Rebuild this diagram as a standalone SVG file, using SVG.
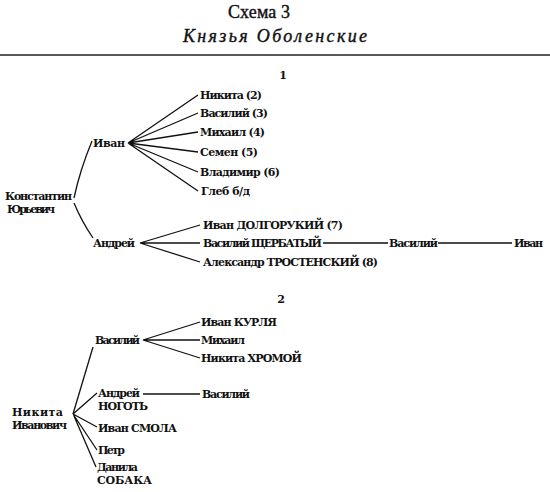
<svg xmlns="http://www.w3.org/2000/svg" width="550" height="492" viewBox="0 0 550 492">
<style>
text{font-family:"DejaVu Serif","Liberation Serif",serif;fill:#111}
.n{font-size:11px;font-weight:bold}
.t1{font-size:18px;font-family:"Liberation Serif",serif;stroke:#111;stroke-width:0.4}
.t2{font-size:18px;font-style:italic;font-family:"Liberation Serif",serif;stroke:#111;stroke-width:0.4}
.h{font-size:11px;font-weight:bold}
.c{stroke:#111;stroke-width:1.3;fill:none}
.rule{stroke:#222;stroke-width:1.4}
</style>
<rect width="550" height="492" fill="#fff"/>
<g id="title">
<text class="t1" x="228" y="18" textLength="62" lengthAdjust="spacing">Схема 3</text>
<text class="t2" x="183" y="42" textLength="184" lengthAdjust="spacing">Князья Оболенские</text>
<line class="rule" x1="0" y1="55" x2="550" y2="55"/>
</g>
<g id="h1"><text class="h" x="283" y="79" text-anchor="middle">1</text></g>
<g id="h2"><text class="h" x="281" y="303" text-anchor="middle">2</text></g>
<g id="connectors">
<path class="c" d="M92,141 Q80,170 74,198"/>
<path class="c" d="M74,203 Q82,222 93,238"/>
<path class="c" d="M128,143 L198,95 M128,143 L198,113 M128,143 L198,132 M128,143 L198,152 M128,143 L198,172 M128,143 L198,191"/>
<path class="c" d="M140,243 L200,225 M140,243 L200,243 M140,243 L200,262"/>
<path class="c" d="M323,243 L388,243 M438,243 L512,243"/>
<path class="c" d="M143,340 L200,322 M143,340 L200,340 M143,340 L200,358"/>
<path class="c" d="M93,347 L73,414"/>
<path class="c" d="M73,414 L97,393 M73,414 L97,427 M73,414 L97,450 M74,416 L96,467"/>
<path class="c" d="M143,394 L200,394"/>
</g>
<g id="konstantin"><text class="n" x="5" y="200" textLength="67" lengthAdjust="spacing">Константин</text><text class="n" x="7" y="213" textLength="48" lengthAdjust="spacing">Юрьевич</text></g>
<g id="ivan1"><text class="n" x="93" y="147" textLength="32" lengthAdjust="spacing">Иван</text></g>
<g id="nikita2"><text class="n" x="200" y="99" textLength="62" lengthAdjust="spacing">Никита (2)</text></g>
<g id="vasily3"><text class="n" x="200" y="117" textLength="68" lengthAdjust="spacing">Василий (3)</text></g>
<g id="mikhail4"><text class="n" x="200" y="136" textLength="65" lengthAdjust="spacing">Михаил (4)</text></g>
<g id="semen5"><text class="n" x="200" y="156" textLength="58" lengthAdjust="spacing">Семен (5)</text></g>
<g id="vladimir6"><text class="n" x="200" y="176" textLength="80" lengthAdjust="spacing">Владимир (6)</text></g>
<g id="gleb"><text class="n" x="201" y="195" textLength="49" lengthAdjust="spacing">Глеб б/д</text></g>
<g id="andrey1"><text class="n" x="93" y="247" textLength="42" lengthAdjust="spacing">Андрей</text></g>
<g id="dolgoruky"><text class="n" x="203" y="229" textLength="140" lengthAdjust="spacing">Иван ДОЛГОРУКИЙ (7)</text></g>
<g id="shcherbaty"><text class="n" x="203" y="247" textLength="119" lengthAdjust="spacing">Василий ЩЕРБАТЫЙ</text></g>
<g id="vasily-s"><text class="n" x="389" y="247" textLength="49" lengthAdjust="spacing">Василий</text></g>
<g id="ivan-s"><text class="n" x="514" y="247" textLength="29" lengthAdjust="spacing">Иван</text></g>
<g id="trostensky"><text class="n" x="203" y="266" textLength="175" lengthAdjust="spacing">Александр ТРОСТЕНСКИЙ (8)</text></g>
<g id="vasily2"><text class="n" x="95" y="344" textLength="45" lengthAdjust="spacing">Василий</text></g>
<g id="kurlya"><text class="n" x="201" y="326" textLength="76" lengthAdjust="spacing">Иван КУРЛЯ</text></g>
<g id="mikhail2"><text class="n" x="201" y="344" textLength="44" lengthAdjust="spacing">Михаил</text></g>
<g id="khromoy"><text class="n" x="201" y="362" textLength="101" lengthAdjust="spacing">Никита ХРОМОЙ</text></g>
<g id="nikita-iv"><text class="n" x="12" y="416" textLength="51" lengthAdjust="spacing">Никита</text><text class="n" x="12" y="429" textLength="55" lengthAdjust="spacing">Иванович</text></g>
<g id="andrey-nogot"><text class="n" x="98" y="397" textLength="42" lengthAdjust="spacing">Андрей</text><text class="n" x="98" y="410" textLength="50" lengthAdjust="spacing">НОГОТЬ</text></g>
<g id="vasily-n"><text class="n" x="202" y="398" textLength="48" lengthAdjust="spacing">Василий</text></g>
<g id="smola"><text class="n" x="98" y="432" textLength="79" lengthAdjust="spacing">Иван СМОЛА</text></g>
<g id="petr"><text class="n" x="98" y="454" textLength="27" lengthAdjust="spacing">Петр</text></g>
<g id="sobaka"><text class="n" x="97" y="471" textLength="41" lengthAdjust="spacing">Данила</text><text class="n" x="97" y="484" textLength="55" lengthAdjust="spacing">СОБАКА</text></g>
</svg>
